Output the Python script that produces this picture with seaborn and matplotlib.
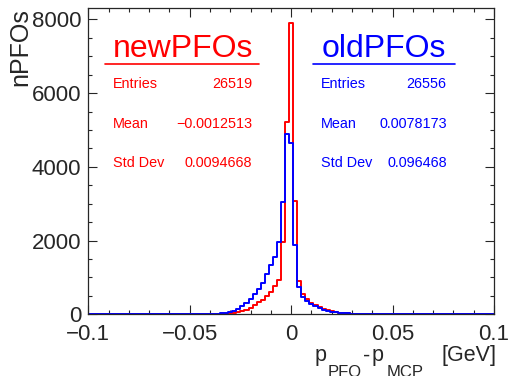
import numpy as np
import pandas as pd
import matplotlib
matplotlib.use("Agg")
import matplotlib.pyplot as plt
from matplotlib.ticker import MultipleLocator
import seaborn as sns

# bin index (bin width 0.002 GeV, centred on multiples of 0.002)
bin_index = list(range(-20, 21))

new_counts = [2, 4, 6, 10, 16, 25, 38, 55, 81, 126,
              180, 243, 333, 397, 495, 600, 765, 920, 1955, 5220,
              7900,
              3060, 900, 560, 420, 320, 250, 190, 140, 105,
              80, 60, 45, 35, 25, 18, 12, 8, 6, 4, 3]
old_counts = [8, 12, 18, 28, 40, 62, 100, 154, 225, 316,
              424, 560, 695, 857, 1080, 1325, 1550, 1955, 3035, 4890,
              4650,
              1890, 730, 470, 370, 290, 230, 170, 125, 95,
              70, 55, 40, 30, 22, 16, 12, 8, 6, 4, 3]

new_stats = [("Entries", "26519"), ("Mean", "\u22120.0012513"), ("Std Dev", "0.0094668")]
old_stats = [("Entries", "26556"), ("Mean", "0.0078173"), ("Std Dev", "0.096468")]

sns.set_style("ticks")
plt.rcParams['font.family'] = ['Liberation Sans', 'DejaVu Sans']

centers = np.array(bin_index) * 0.002
edges = list(np.linspace(-0.101, 0.101, 102))
new_df = pd.DataFrame({'dp': centers, 'n': new_counts})
old_df = pd.DataFrame({'dp': centers, 'n': old_counts})

W, H = 510, 376
fig = plt.figure(figsize=(W / 100, H / 100), dpi=100)
ax = fig.add_axes([0.1731, 0.1641, 0.7955, 0.8133])

red = '#ff0000'
blue = '#0000ff'
sns.histplot(data=new_df, x='dp', weights='n', bins=edges, element='step', fill=False,
             color=red, linewidth=1.4, ax=ax)
sns.histplot(data=old_df, x='dp', weights='n', bins=edges, element='step', fill=False,
             color=blue, linewidth=1.4, ax=ax)

ax.set_xlim(-0.1, 0.1)
ax.set_ylim(0, max(new_counts) * 1.05)
ax.xaxis.set_minor_locator(MultipleLocator(0.01))
ax.yaxis.set_major_locator(MultipleLocator(2000))
ax.yaxis.set_minor_locator(MultipleLocator(500))
ax.set_xticks([-0.1, -0.05, 0, 0.05, 0.1], ['\u22120.1', '\u22120.05', '0', '0.05', '0.1'])
ax.tick_params(which='both', direction='in', top=True, right=True, width=0.8, labelsize=16)
ax.tick_params(which='major', length=6.3)
ax.tick_params(which='minor', length=3.1)
ax.tick_params(axis='x', pad=7)
ax.tick_params(axis='y', pad=5)
for s in ax.spines.values():
    s.set_linewidth(0.9)

ax.set_xlabel('')
ax.set_ylabel('nPFOs', fontsize=18, ha='right')
ax.yaxis.set_label_coords(-0.139, 1.0)

# x title in ROOT style: p_PFO - p_MCP [GeV], pieces placed in figure pixels
title_parts = [('p', 315, 15.5, 361.5), ('PFO', 328, 12, 377),
               ('-', 363, 15.5, 361.5), ('p', 372, 15.5, 361.5),
               ('MCP', 387, 12, 377), ('[GeV]', 442, 15.5, 361.5)]
for txt, px, fs, py in title_parts:
    fig.text(px / W, 1 - py / H, txt, fontsize=fs, ha='left', va='baseline')

# stats "legends"
ax.text(0.2334, 0.8414, 'newPFOs', color=red, fontsize=23, ha='center', va='baseline', transform=ax.transAxes)
ax.plot([0.0411, 0.4206], [0.8194, 0.8194], color=red, lw=1.2, transform=ax.transAxes)
ax.text(0.7293, 0.8414, 'oldPFOs', color=blue, fontsize=23, ha='center', va='baseline', transform=ax.transAxes)
ax.plot([0.554, 0.904], [0.8194, 0.8194], color=blue, lw=1.2, transform=ax.transAxes)

rows_y = [0.7531, 0.6223, 0.4948]
for (lab, val), y in zip(new_stats, rows_y):
    ax.text(0.0609, y, lab, color=red, fontsize=10.4, ha='left', va='center', transform=ax.transAxes)
    ax.text(0.4035, y, val, color=red, fontsize=10.4, ha='right', va='center', transform=ax.transAxes)
for (lab, val), y in zip(old_stats, rows_y):
    ax.text(0.5728, y, lab, color=blue, fontsize=10.4, ha='left', va='center', transform=ax.transAxes)
    ax.text(0.8834, y, val, color=blue, fontsize=10.4, ha='right', va='center', transform=ax.transAxes)

fig.savefig('out.png', dpi=100)
